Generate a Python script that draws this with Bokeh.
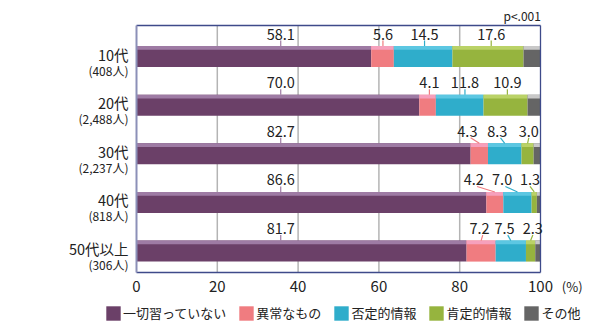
from bokeh.plotting import figure
from bokeh.models import Range1d, Legend, LegendItem, ColumnDataSource
from bokeh.core.properties import value
from bokeh.embed import file_html
from bokeh.resources import INLINE

# ---------------- data ----------------
groups = ["10代", "20代", "30代", "40代", "50代以上"]
group_n = ["(408人)", "(2,488人)", "(2,237人)", "(818人)", "(306人)"]
series = ["一切習っていない", "異常なもの", "否定的情報", "肯定的情報", "その他"]
none_at_all = [58.1, 70.0, 82.7, 86.6, 81.7]
abnormal = [5.6, 4.1, 4.3, 4.2, 7.2]
negative = [14.5, 11.8, 8.3, 7.0, 7.5]
positive = [17.6, 10.9, 3.0, 1.3, 2.3]
other = [round(100 - a - b - c - d, 1) for a, b, c, d in
         zip(none_at_all, abnormal, negative, positive)]
x_ticks = [0, 20, 40, 60, 80, 100]
x_tick_labels = ["0", "20", "40", "60", "80", "100"]
unit_label = "(%)"
note = "p<.001"

values = [none_at_all, abnormal, negative, positive, other]

# ---------------- styles / layout ----------------
main_colors = ["#6B4068", "#F07C80", "#2FADCB", "#96B43E", "#656565"]
top_colors = ["#9E7BA4", "#F6A0BC", "#5CC7E2", "#BAD267", "#C8C8C8"]
FONT = "Noto Sans CJK JP"
TXT = "#222222"
W, H = 600, 329
PLOT_L, PLOT_R, PLOT_T = 136, 540, 25
XPX = (PLOT_R - PLOT_L) / 100.0      # pixels per percent
PX = 48.62                           # pixels per row unit
Y_TOP = -0.64                        # data y at top of plot area
Y_BOT = 4.44                         # data y at bottom of plot area
BAR_H = 21.0 / PX
TOP_H = 3.7 / PX

def dx(px):
    return px / XPX

def dy(px):
    return px / PX

purple_label_x = 35.7
label_x = [
    [61.0, 71.3, 87.8],
    [72.5, 81.3, 91.8],
    [81.9, 89.3, 97.1],
    [83.5, 90.5, 97.4],
    [84.9, 91.1, 98.1],
]
diagonal_rows = [2, 3, 4]

p = figure(width=W, height=H, output_backend="svg", toolbar_location=None,
           x_range=Range1d(-dx(PLOT_L), dx(W - PLOT_L)),
           y_range=Range1d(Y_TOP + dy(H - PLOT_T), Y_TOP - dy(PLOT_T)),
           min_border=0)
p.background_fill_color = "white"
p.border_fill_color = "white"
p.outline_line_color = None
p.xgrid.visible = False
p.ygrid.visible = False
p.xaxis.visible = False
p.yaxis.visible = False

# grid lines
p.segment(x0=x_ticks[1:-1], x1=x_ticks[1:-1], y0=[Y_TOP] * 4, y1=[Y_BOT] * 4,
          line_color="#B4B4B4", line_width=1.5)

rows = list(range(len(groups)))
renderers = []
left = [0.0] * len(groups)
for si, vals in enumerate(values):
    right = [l + v for l, v in zip(left, vals)]
    src = ColumnDataSource(dict(y=rows, left=left, right=right,
                                ytop=[r - BAR_H / 2 + TOP_H / 2 for r in rows]))
    r = p.hbar(y="y", left="left", right="right", height=BAR_H, source=src,
               fill_color=main_colors[si], line_color=None)
    p.hbar(y="ytop", left="left", right="right", height=TOP_H, source=src,
           fill_color=top_colors[si], line_color=None)
    renderers.append((r, left, right))
    left = right

# frame
p.segment(x0=[0, 0, 100], y0=[Y_TOP, Y_BOT, Y_TOP],
          x1=[100, 100, 100], y1=[Y_TOP, Y_BOT, Y_BOT],
          line_color="#3E4A8A", line_width=1.3)
p.segment(x0=[0], y0=[Y_TOP], x1=[0], y1=[Y_BOT], line_color="#8C90B8",
          line_width=2)

# value labels + leaders
lbl_off = dy(12.0)
tx, ty, tt = [], [], []
lx0, ly0, lx1, ly1, lc = [], [], [], [], []
for ri in rows:
    yb = ri - BAR_H / 2
    yl = yb - lbl_off
    tx.append(purple_label_x); ty.append(yl); tt.append(f"{none_at_all[ri]:.1f}")
    lx0.append(purple_label_x); lx1.append(purple_label_x)
    ly0.append(yl + dy(6.5)); ly1.append(yb); lc.append(top_colors[0])
    for k in range(3):
        si = k + 1
        _, lft, rgt = renderers[si]
        mid = (lft[ri] + rgt[ri]) / 2
        x = label_x[ri][k]
        tx.append(x); ty.append(yl); tt.append(f"{values[si][ri]:.1f}")
        lx0.append(x + (0.8 if ri in diagonal_rows and k < 2 else 0))
        lx1.append(mid if ri in diagonal_rows else x)
        ly0.append(yl + dy(6.5)); ly1.append(yb)
        lc.append(main_colors[si])

p.segment(x0=lx0, y0=ly0, x1=lx1, y1=ly1, line_color=lc, line_width=1.2)
p.text(x=tx, y=ty, text=tt, text_align="center", text_baseline="middle",
       text_font=value(FONT), text_font_size="14.5px", text_color=TXT)

# group labels
p.text(x=[dx(-8)] * len(rows), y=[r - dy(2.5) for r in rows], text=groups,
       text_align="right", text_baseline="middle", text_font=value(FONT),
       text_font_size="14.5px", text_color=TXT)
p.text(x=[dx(-8)] * len(rows), y=[r + dy(13.5) for r in rows], text=group_n,
       text_align="right", text_baseline="middle", text_font=value(FONT),
       text_font_size="12px", text_color=TXT)

# x tick labels
p.text(x=x_ticks, y=[Y_BOT + dy(13.8)] * len(x_ticks), text=x_tick_labels,
       text_align="center", text_baseline="middle", text_font=value(FONT),
       text_font_size="15px", text_color=TXT)
p.text(x=[dx(571.7 - PLOT_L)], y=[Y_BOT + dy(13.8)], text=[unit_label],
       text_align="center", text_baseline="middle", text_font=value(FONT),
       text_font_size="13px", text_color=TXT)
p.text(x=[dx(521.7 - PLOT_L)], y=[Y_TOP - dy(10)], text=[note],
       text_align="center", text_baseline="middle", text_font=value(FONT),
       text_font_size="12px", text_color=TXT)

legend = Legend(items=[LegendItem(label=series[i], renderers=[renderers[i][0]])
                       for i in range(len(series))],
                orientation="horizontal", location=(104, 7),
                glyph_width=18, glyph_height=18, label_standoff=1, spacing=11,
                padding=0, margin=0, border_line_color=None,
                background_fill_alpha=0, label_text_font=FONT,
                label_text_font_size="13px", label_text_color=TXT,
                label_height=18)
p.add_layout(legend)

open("out.html", "w").write(file_html(p, INLINE))
